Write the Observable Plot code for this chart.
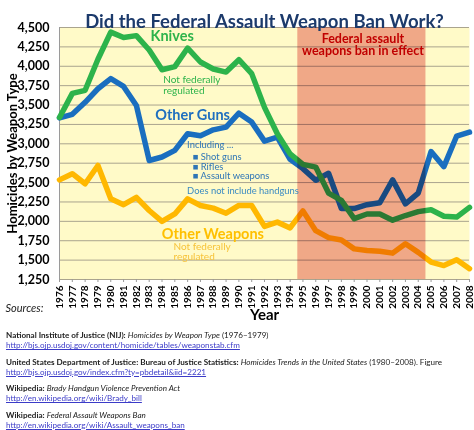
<!DOCTYPE html>
<html>
<head>
<meta charset="utf-8">
<script src="https://cdn.jsdelivr.net/npm/d3@7"></script>
<script src="https://cdn.jsdelivr.net/npm/@observablehq/plot@0.6"></script>
<style>
  html, body { margin: 0; padding: 0; background: #ffffff; }
  #chart svg { display: block; }
  #sources { font-family: Lato, "Open Sans", sans-serif; font-size: 8.1px; line-height: 10px; color: #222; padding-left: 6px; }
  #sources p { margin: 0 0 6.5px 0; white-space: nowrap; }
  #sources a { color: #3b3bc8; text-decoration: underline; }
</style>
</head>
<body>
<div id="chart"></div>
<div id="sources"></div>
<script>
// ---- data ----
const years = [1976,1977,1978,1979,1980,1981,1982,1983,1984,1985,1986,1987,1988,1989,1990,1991,1992,1993,1994,1995,1996,1997,1998,1999,2000,2001,2002,2003,2004,2005,2006,2007,2008];
const knives = [3340,3650,3690,4090,4440,4370,4395,4210,3955,3995,4235,4055,3965,3925,4085,3905,3470,3130,2870,2735,2700,2365,2270,2035,2095,2095,2015,2075,2125,2150,2065,2055,2180];
const otherGuns = [3335,3380,3535,3710,3840,3740,3495,2785,2830,2915,3130,3105,3180,3215,3395,3280,3035,3085,2800,2680,2530,2620,2165,2165,2215,2240,2535,2225,2365,2900,2705,3100,3150];
const otherWeapons = [2535,2615,2485,2720,2290,2215,2310,2140,2000,2095,2290,2205,2170,2105,2205,2205,1935,1990,1915,2135,1880,1790,1760,1645,1625,1615,1590,1710,1600,1475,1430,1505,1390];
const seriesNames = ["Other Weapons", "Other Guns", "Knives"];
const yTicks = [1250,1500,1750,2000,2250,2500,2750,3000,3250,3500,3750,4000,4250,4500];
const banPeriod = [{start: 1994.6, end: 2004.6}];

const title = "Did the Federal Assault Weapon Ban Work?";
const yLabel = "Homicides by Weapon Type";
const xLabel = "Year";

// annotation texts (positions in data units)
const headNotes = [
  {text: "Knives", x: 1983.1, y: 4384, c: "#2db34b"},
  {text: "Other Guns", x: 1983.47, y: 3365, c: "#1f6fbf"},
  {text: "Other Weapons", x: 1983.99, y: 1830, c: "#ffc000"}
];
const smallNotes = [
  {text: "Not federally", x: 1984.1, y: 3829, c: "#2db34b", s: 10},
  {text: "regulated", x: 1984.1, y: 3688, c: "#2db34b", s: 10},
  {text: "Including ...", x: 1985.96, y: 2991, c: "#2e75b6", s: 9.4},
  {text: "■ Shot guns", x: 1986.4, y: 2830, c: "#2e75b6", s: 9.4},
  {text: "■ Rifles", x: 1986.4, y: 2707, c: "#2e75b6", s: 9.4},
  {text: "■ Assault weapons", x: 1986.4, y: 2585, c: "#2e75b6", s: 9.4},
  {text: "Does not include handguns", x: 1985.96, y: 2398, c: "#3b8bc2", s: 9.4},
  {text: "Not federally", x: 1984.9, y: 1672, c: "#f7c33a", s: 10},
  {text: "regulated", x: 1984.9, y: 1545, c: "#f7c33a", s: 10}
];
const banNotes = [
  {text: "Federal assault", x: 1999.68, y: 4354},
  {text: "weapons ban in effect", x: 1999.68, y: 4194}
];

const sources = [
  {org: "National Institute of Justice (NIJ):", title: "Homicides by Weapon Type", rest: " (1976–1979)", url: "http://bjs.ojp.usdoj.gov/content/homicide/tables/weaponstab.cfm"},
  {org: "United States Department of Justice: Bureau of Justice Statistics:", title: "Homicides Trends in the United States", rest: " (1980–2008). Figure", url: "http://bjs.ojp.usdoj.gov/index.cfm?ty=pbdetail&iid=2221"},
  {org: "Wikipedia:", title: "Brady Handgun Violence Prevention Act", rest: "", url: "http://en.wikipedia.org/wiki/Brady_bill"},
  {org: "Wikipedia:", title: "Federal Assault Weapons Ban", rest: "", url: "http://en.wikipedia.org/wiki/Assault_weapons_ban"}
];

// ---- build table ----
const seriesValues = {"Other Weapons": otherWeapons, "Other Guns": otherGuns, "Knives": knives};
const rows = seriesNames.flatMap(name => years.map((year, i) => ({series: name, year, value: seriesValues[name][i]})));

const chart = Plot.plot({
  width: 474,
  height: 330,
  marginLeft: 59,
  marginRight: 5,
  marginTop: 27,
  marginBottom: 51,
  style: {fontFamily: "Lato, 'Open Sans', sans-serif", color: "#000", background: "#fff", overflow: "visible"},
  x: {domain: [1976, 2008]},
  y: {domain: [1250, 4500]},
  color: {domain: ["Knives", "Other Guns", "Other Weapons"], range: ["#2db34b", "#1a6ebf", "#ffb800"]},
  marks: [
    Plot.frame({fill: "#fffac8", stroke: null}),
    Plot.gridY({ticks: yTicks, stroke: "#aaa48e", strokeOpacity: 1, strokeWidth: 1}),
    Plot.ruleX([1976], {stroke: "#9a9a9a"}),
    Plot.line(rows, {x: "year", y: "value", z: "series", stroke: "series", strokeWidth: 5.5, strokeLinejoin: "round"}),
    Plot.rect(banPeriod, {x1: "start", x2: "end", fill: "#f0acac", mixBlendMode: "multiply"}),
    Plot.axisY({ticks: yTicks, tickFormat: d3.format(","), tickSize: 0, tickPadding: 10, fontWeight: "bold", fontSize: 12.5, label: null}),
    Plot.axisX({ticks: years, tickFormat: d => String(d), tickRotate: -90, tickSize: 3, tickPadding: 3, fontWeight: "bold", fontSize: 10, label: null, stroke: "#9a9a9a"}),
    Plot.text(headNotes, {x: "x", y: "y", text: "text", fill: d => d.c, fontSize: 14.5, fontWeight: "bold", textAnchor: "start"}),
    Plot.text(smallNotes, {x: "x", y: "y", text: "text", fill: d => d.c, fontSize: d => d.s, textAnchor: "start"}),
    Plot.text(banNotes, {x: "x", y: "y", text: "text", fill: "#c00000", fontSize: 12.5, fontWeight: "bold", textAnchor: "middle"}),
    Plot.text([title], {frameAnchor: "top", dy: -13, fontSize: 18.5, fontWeight: "bold", fill: "#1c3a6b"}),
    Plot.text([yLabel], {frameAnchor: "left", dx: -47, rotate: -90, textAnchor: "middle", fontSize: 13, fontWeight: "bold"}),
    Plot.text([xLabel], {frameAnchor: "bottom", dy: 40, fontSize: 15, fontWeight: "bold"}),
    Plot.text(["Sources:"], {frameAnchor: "bottom-left", dx: -54, dy: 32, textAnchor: "start", fontSize: 11, fontStyle: "italic", fill: "#222"})
  ]
});
document.getElementById("chart").appendChild(chart);

const src = document.getElementById("sources");
for (const s of sources) {
  const p = document.createElement("p");
  const b = document.createElement("b"); b.textContent = s.org; p.appendChild(b);
  p.appendChild(document.createTextNode("  "));
  const i = document.createElement("i"); i.textContent = s.title; p.appendChild(i);
  if (s.rest) p.appendChild(document.createTextNode(s.rest));
  p.appendChild(document.createElement("br"));
  const a = document.createElement("a"); a.textContent = s.url; a.href = "#"; p.appendChild(a);
  src.appendChild(p);
}
</script>
</body>
</html>
